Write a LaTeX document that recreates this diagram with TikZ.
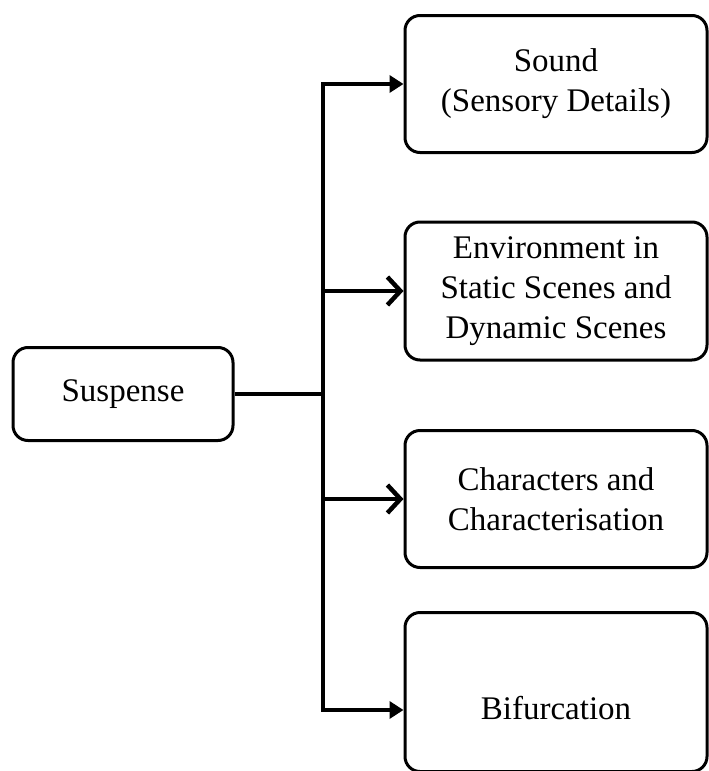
\documentclass[tikz,border=0pt]{standalone}
\usepackage{fontspec}
\setmainfont{Liberation Serif}
\usetikzlibrary{calc}
\usetikzlibrary{arrows.meta}
\tikzset{
  box/.style={draw, line width=3pt, rounded corners=15pt, align=center,
    inner sep=0pt, font=\fontsize{33}{40}\selectfont},
  stem/.style={line width=4.5pt},
  fullhead/.style={-{Triangle[length=14pt,width=17pt]}},
  openhead/.style={-{Straight Barb[length=13pt,width=28pt]}},
}

\begin{document}
\begin{tikzpicture}[x=1pt,y=-1pt]
  \useasboundingbox (0,0) rectangle (709,771);

  % BOXES
  \node[box, minimum width=220, minimum height=93] (susp) at (123,394) {Suspense};
  \node[box, minimum width=302, minimum height=137] (sound) at (556,84)
    {Sound\\(Sensory Details)};
  \node[box, minimum width=302, minimum height=138] (env) at (556,291)
    {Environment in\\Static Scenes and\\Dynamic Scenes};
  \node[box, minimum width=302, minimum height=137] (char) at (556,499)
    {Characters and\\Characterisation};
  \node[box, minimum width=302, minimum height=159,
    text height=60pt, text depth=6pt] (bif) at (556,692) {Bifurcation};

  % TRUNK
  \coordinate (J) at (323,0);
  \coordinate (Jtop) at (J |- sound.west);
  \coordinate (Jbot) at ($(J |- bif.west)+(0,18)$);

  \draw[stem] (susp.east) -- (susp.east -| J);
  \draw[stem, fullhead] (Jbot) -- (Jtop) -- (sound.west);
  \draw[stem, fullhead] (Jtop) -- (Jbot) -- ([yshift=-18pt]bif.west);
  \draw[stem, openhead] (J |- env.west) -- (env.west);
  \draw[stem, openhead] (J |- char.west) -- (char.west);

\end{tikzpicture}
\end{document}
